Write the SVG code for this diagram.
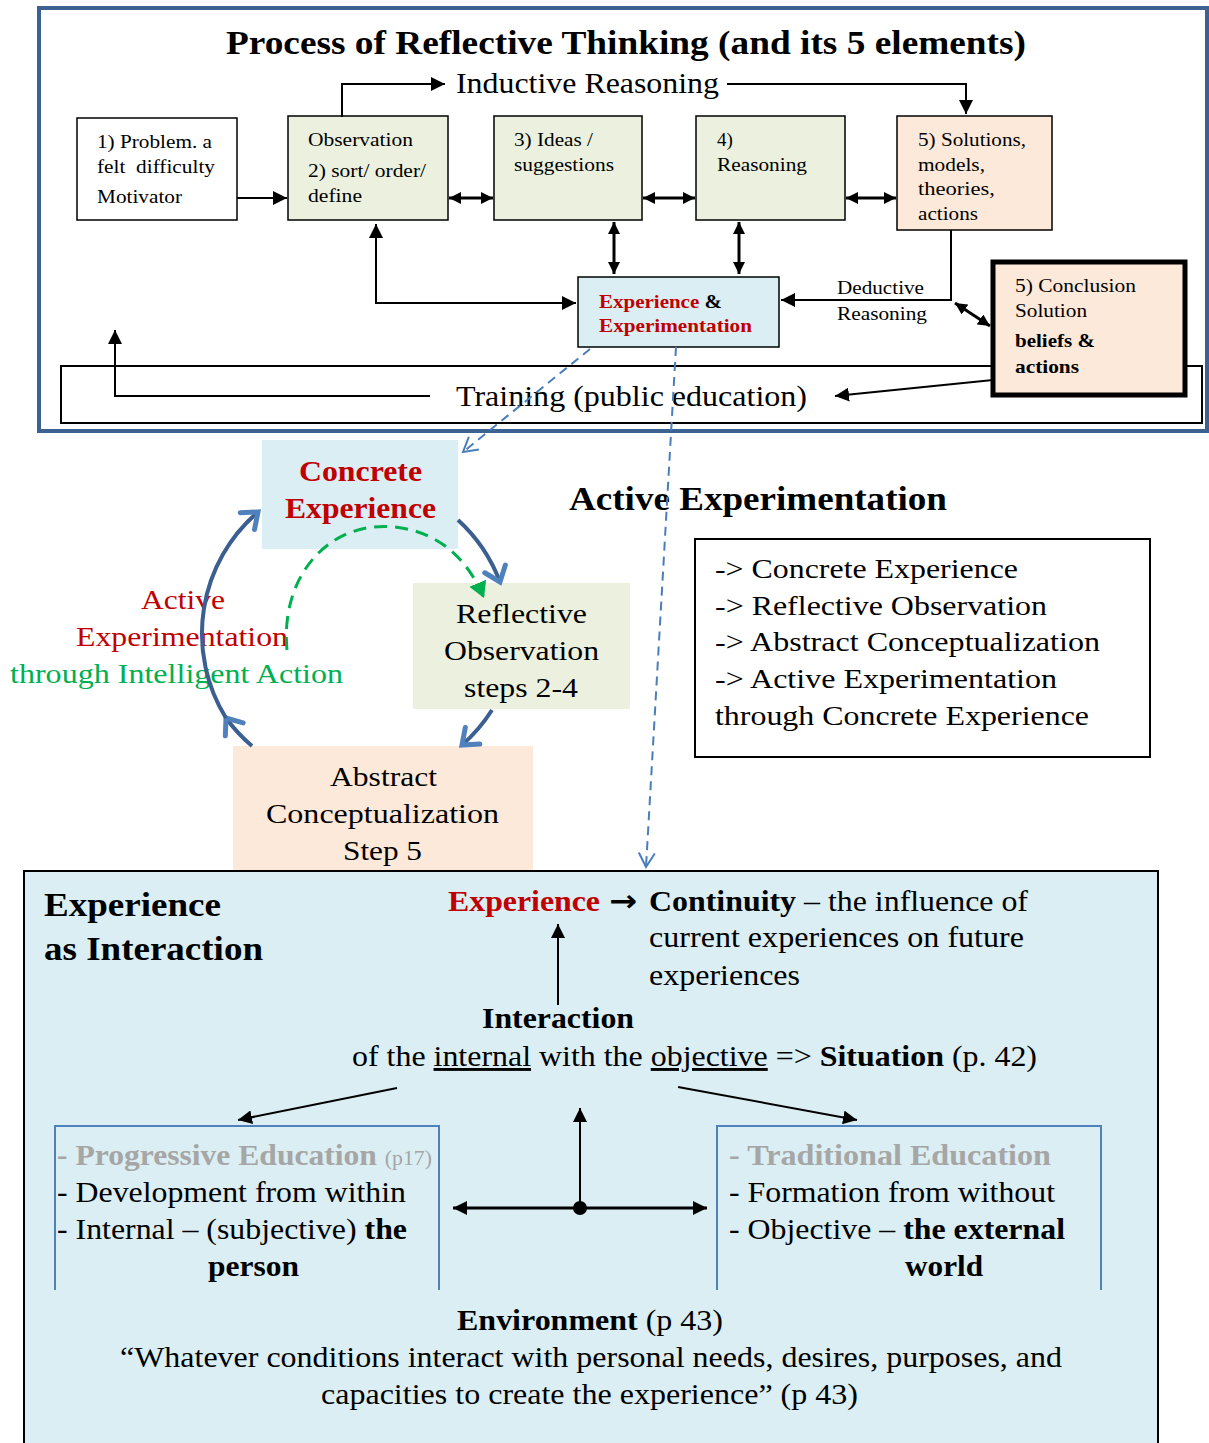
<svg xmlns="http://www.w3.org/2000/svg" width="1209" height="1443" viewBox="0 0 1209 1443">
<defs>
<style>
text{font-family:"Liberation Serif","Times New Roman",serif;fill:#000}
text.arr{font-family:"DejaVu Sans",sans-serif;font-weight:bold;font-size:30px}
.b{font-weight:bold}
.red{fill:#c00000}
.grn{fill:#00b050}
.gry{fill:#a6a6a6}
.s19{font-size:19px}
.s29{font-size:29px}
.s28{font-size:28px}
.s33{font-size:33px}
.box{stroke:#000;stroke-width:1.5}
.ln{fill:none;stroke:#000;stroke-width:2}
.thk{fill:none;stroke:#000;stroke-width:3}
.dash{fill:none;stroke:#4a7ebb;stroke-width:2;stroke-dasharray:9 6}
.cyc{fill:none;stroke:#3b5f91;stroke-width:4}
</style>
<marker id="ah" markerUnits="userSpaceOnUse" markerWidth="16" markerHeight="14" refX="14" refY="7" orient="auto-start-reverse"><path d="M0,0 L14,7 L0,14 Z" fill="#000"/></marker>
<marker id="ahs" markerUnits="userSpaceOnUse" markerWidth="14" markerHeight="12" refX="12" refY="6" orient="auto-start-reverse"><path d="M0,0 L12,6 L0,12 Z" fill="#000"/></marker>
<marker id="chev" markerUnits="userSpaceOnUse" markerWidth="30" markerHeight="30" refX="18" refY="15" orient="auto"><path d="M4,4 L18,15 L4,26" fill="none" stroke="#4f81bd" stroke-width="5" stroke-linecap="round"/></marker>
<marker id="vopen" markerUnits="userSpaceOnUse" markerWidth="24" markerHeight="24" refX="18" refY="12" orient="auto"><path d="M4,4 L18,12 L4,20" fill="none" stroke="#4a7ebb" stroke-width="2"/></marker>
<marker id="gtri" markerUnits="userSpaceOnUse" markerWidth="20" markerHeight="18" refX="16" refY="9" orient="auto"><path d="M0,0 L16,9 L0,18 Z" fill="#00b050"/></marker>
</defs>

<!-- Top frame -->
<g id="frame-top">
<rect x="39" y="8" width="1168" height="423" fill="#fff" stroke="#3c6291" stroke-width="4"/>
<text class="b s33" x="226" y="54" textLength="800" lengthAdjust="spacingAndGlyphs">Process of Reflective Thinking (and its 5 elements)</text>
</g>

<g id="training">
<rect x="61" y="366" width="1141" height="57" fill="#fff" stroke="#000" stroke-width="2"/>
<text class="s29" x="456" y="406" textLength="351" lengthAdjust="spacingAndGlyphs">Training (public education)</text>
</g>

<g id="inductive-label"><text class="s29" x="456" y="93" textLength="263" lengthAdjust="spacingAndGlyphs">Inductive Reasoning</text></g>

<g id="n1">
<rect class="box" x="77" y="118" width="160" height="102" fill="#fff"/>
<text class="s19" x="97" y="148" textLength="115" lengthAdjust="spacingAndGlyphs">1) Problem. a</text>
<text class="s19" x="97" y="173" xml:space="preserve" textLength="118" lengthAdjust="spacingAndGlyphs">felt  difficulty</text>
<text class="s19" x="97" y="203" textLength="85" lengthAdjust="spacingAndGlyphs">Motivator</text>
</g>
<g id="n2">
<rect class="box" x="288" y="116" width="160" height="104" fill="#ebf1de"/>
<text class="s19" x="308" y="146" textLength="105" lengthAdjust="spacingAndGlyphs">Observation</text>
<text class="s19" x="308" y="177" textLength="118" lengthAdjust="spacingAndGlyphs">2) sort/ order/</text>
<text class="s19" x="308" y="202" textLength="54" lengthAdjust="spacingAndGlyphs">define</text>
</g>
<g id="n3">
<rect class="box" x="494" y="116" width="148" height="104" fill="#ebf1de"/>
<text class="s19" x="514" y="146" textLength="79" lengthAdjust="spacingAndGlyphs">3) Ideas /</text>
<text class="s19" x="514" y="171" textLength="100" lengthAdjust="spacingAndGlyphs">suggestions</text>
</g>
<g id="n4">
<rect class="box" x="696" y="116" width="149" height="104" fill="#ebf1de"/>
<text class="s19" x="717" y="146">4)</text>
<text class="s19" x="717" y="171" textLength="90" lengthAdjust="spacingAndGlyphs">Reasoning</text>
</g>
<g id="n5">
<rect class="box" x="897" y="116" width="155" height="114" fill="#fde9d9"/>
<text class="s19" x="918" y="146" textLength="108" lengthAdjust="spacingAndGlyphs">5) Solutions,</text>
<text class="s19" x="918" y="171" textLength="67" lengthAdjust="spacingAndGlyphs">models,</text>
<text class="s19" x="918" y="195" textLength="77" lengthAdjust="spacingAndGlyphs">theories,</text>
<text class="s19" x="918" y="220" textLength="60" lengthAdjust="spacingAndGlyphs">actions</text>
</g>
<g id="n-exp">
<rect class="box" x="578" y="277" width="201" height="70" fill="#dbeef3"/>
<text class="s19 b" x="599" y="308" textLength="123" lengthAdjust="spacingAndGlyphs"><tspan class="red">Experience</tspan> &amp;</text>
<text class="s19 b red" x="599" y="332" textLength="153" lengthAdjust="spacingAndGlyphs">Experimentation</text>
</g>
<g id="n-concl">
<rect x="993" y="262" width="192" height="133" fill="#fde9d9" stroke="#000" stroke-width="5"/>
<text class="s19" x="1015" y="292" textLength="121" lengthAdjust="spacingAndGlyphs">5) Conclusion</text>
<text class="s19" x="1015" y="317" textLength="72" lengthAdjust="spacingAndGlyphs">Solution</text>
<text class="s19 b" x="1015" y="347" textLength="80" lengthAdjust="spacingAndGlyphs">beliefs &amp;</text>
<text class="s19 b" x="1015" y="373" textLength="64" lengthAdjust="spacingAndGlyphs">actions</text>
</g>
<g id="deductive-label">
<text class="s19" x="837" y="294" textLength="87" lengthAdjust="spacingAndGlyphs">Deductive</text>
<text class="s19" x="837" y="320" textLength="90" lengthAdjust="spacingAndGlyphs">Reasoning</text>
</g>

<!-- Middle cycle -->
<g id="c-concrete">
<rect x="262" y="440" width="196" height="109" fill="#dbeef3"/>
<text class="b red" font-size="30" x="299" y="481" textLength="123" lengthAdjust="spacingAndGlyphs">Concrete</text>
<text class="b red" font-size="30" x="285" y="518" textLength="151" lengthAdjust="spacingAndGlyphs">Experience</text>
</g>
<g id="c-reflective">
<rect x="413" y="583" width="217" height="126" fill="#ebf1de"/>
<text class="s28" x="456" y="623" textLength="131" lengthAdjust="spacingAndGlyphs">Reflective</text>
<text class="s28" x="444" y="660" textLength="155" lengthAdjust="spacingAndGlyphs">Observation</text>
<text class="s28" x="464" y="697" textLength="114" lengthAdjust="spacingAndGlyphs">steps 2-4</text>
</g>
<g id="c-abstract">
<rect x="233" y="746" width="300" height="124" fill="#fde9d9"/>
<text class="s28" x="330" y="786" textLength="107" lengthAdjust="spacingAndGlyphs">Abstract</text>
<text class="s28" x="266" y="823" textLength="233" lengthAdjust="spacingAndGlyphs">Conceptualization</text>
<text class="s28" x="343" y="860" textLength="79" lengthAdjust="spacingAndGlyphs">Step 5</text>
</g>
<g id="c-active-label">
<text class="s28 red" x="141" y="609" textLength="84" lengthAdjust="spacingAndGlyphs">Active</text>
<text class="s28 red" x="76" y="646" textLength="212" lengthAdjust="spacingAndGlyphs">Experimentation</text>
<text class="s28 grn" x="10" y="683" textLength="333" lengthAdjust="spacingAndGlyphs">through Intelligent Action</text>
</g>
<g id="active-title"><text class="b s33" x="569" y="510" textLength="378" lengthAdjust="spacingAndGlyphs">Active Experimentation</text></g>
<g id="active-list">
<rect x="695" y="539" width="455" height="218" fill="#fff" stroke="#000" stroke-width="2"/>
<text class="s28" x="715" y="578" textLength="303" lengthAdjust="spacingAndGlyphs">-&gt; Concrete Experience</text>
<text class="s28" x="715" y="615" textLength="332" lengthAdjust="spacingAndGlyphs">-&gt; Reflective Observation</text>
<text class="s28" x="715" y="651" textLength="385" lengthAdjust="spacingAndGlyphs">-&gt; Abstract Conceptualization</text>
<text class="s28" x="715" y="688" textLength="342" lengthAdjust="spacingAndGlyphs">-&gt; Active Experimentation</text>
<text class="s28" x="715" y="725" textLength="374" lengthAdjust="spacingAndGlyphs">through Concrete Experience</text>
</g>

<!-- Bottom section -->
<g id="bottom-frame">
<rect x="24" y="871" width="1134" height="580" fill="#daeef3" stroke="#000" stroke-width="2"/>
<text class="b s33" x="44" y="916" textLength="177" lengthAdjust="spacingAndGlyphs">Experience</text>
<text class="b s33" x="44" y="960" textLength="219" lengthAdjust="spacingAndGlyphs">as Interaction</text>
</g>
<g id="continuity">
<text class="s29 b red" x="448" y="911" textLength="152" lengthAdjust="spacingAndGlyphs">Experience</text>
<text class="arr" x="609" y="911" textLength="28" lengthAdjust="spacingAndGlyphs">→</text>
<text class="s29" x="649" y="911" textLength="379" lengthAdjust="spacingAndGlyphs"><tspan class="b">Continuity</tspan> – the influence of</text>
<text class="s29" x="649" y="947" textLength="375" lengthAdjust="spacingAndGlyphs">current experiences on future</text>
<text class="s29" x="649" y="985" textLength="151" lengthAdjust="spacingAndGlyphs">experiences</text>
</g>
<g id="interaction">
<text class="s29 b" x="482" y="1028" textLength="152" lengthAdjust="spacingAndGlyphs">Interaction</text>
<text class="s29" x="352" y="1066" textLength="685" lengthAdjust="spacingAndGlyphs">of the <tspan text-decoration="underline">internal</tspan> with the <tspan text-decoration="underline">objective</tspan> =&gt; <tspan class="b">Situation</tspan> (p. 42)</text>
</g>
<g id="progressive">
<path d="M55,1290 V1126 H439 V1290" fill="none" stroke="#4f81bd" stroke-width="2"/>
<text class="s29 b gry" x="57" y="1165" textLength="375" lengthAdjust="spacingAndGlyphs">- Progressive Education <tspan font-size="20" font-weight="normal">(p17)</tspan></text>
<text class="s29" x="57" y="1202" textLength="349" lengthAdjust="spacingAndGlyphs">- Development from within</text>
<text class="s29" x="57" y="1239" textLength="350" lengthAdjust="spacingAndGlyphs">- Internal – (subjective) <tspan class="b">the</tspan></text>
<text class="s29 b" x="208" y="1276" textLength="91" lengthAdjust="spacingAndGlyphs">person</text>
</g>
<g id="traditional">
<path d="M717,1290 V1126 H1101 V1290" fill="none" stroke="#4f81bd" stroke-width="2"/>
<text class="s29 b gry" x="729" y="1165" textLength="322" lengthAdjust="spacingAndGlyphs">- Traditional Education</text>
<text class="s29" x="729" y="1202" textLength="326" lengthAdjust="spacingAndGlyphs">- Formation from without</text>
<text class="s29" x="729" y="1239" textLength="336" lengthAdjust="spacingAndGlyphs">- Objective – <tspan class="b">the external</tspan></text>
<text class="s29 b" x="905" y="1276" textLength="78" lengthAdjust="spacingAndGlyphs">world</text>
</g>
<g id="environment">
<text class="s29" x="457" y="1330" textLength="266" lengthAdjust="spacingAndGlyphs"><tspan class="b">Environment</tspan> (p 43)</text>
<text class="s29" x="120" y="1367" textLength="942" lengthAdjust="spacingAndGlyphs">“Whatever conditions interact with personal needs, desires, purposes, and</text>
<text class="s29" x="321" y="1404" textLength="537" lengthAdjust="spacingAndGlyphs">capacities to create the experience” (p 43)</text>
</g>

<!-- Connectors -->
<g id="connectors">
<path class="ln" d="M342,117 V84 H445" marker-end="url(#ah)"/>
<path class="ln" d="M727,84 H966 V114" marker-end="url(#ah)"/>
<path class="ln" d="M237,198 H287" marker-end="url(#ah)"/>
<path class="thk" d="M449,198 H493" marker-start="url(#ahs)" marker-end="url(#ahs)"/>
<path class="thk" d="M643,198 H695" marker-start="url(#ahs)" marker-end="url(#ahs)"/>
<path class="thk" d="M846,198 H896" marker-start="url(#ahs)" marker-end="url(#ahs)"/>
<path class="thk" d="M614,222 V274" marker-start="url(#ahs)" marker-end="url(#ahs)"/>
<path class="thk" d="M739,222 V274" marker-start="url(#ahs)" marker-end="url(#ahs)"/>
<path class="ln" d="M376,224 V303 H576" marker-start="url(#ah)" marker-end="url(#ah)"/>
<path class="ln" d="M951,230 V300 H781" marker-end="url(#ah)"/>
<path class="thk" d="M955,303 L990,326" marker-start="url(#ahs)" marker-end="url(#ahs)"/>
<path class="ln" d="M430,396 H115 V330" marker-end="url(#ah)"/>
<path class="ln" d="M993,380 L835,396" marker-end="url(#ah)"/>
<path class="dash" d="M590,349 L463,452" marker-end="url(#vopen)"/>
<path class="dash" d="M676,347 L646,867" marker-end="url(#vopen)"/>
<path class="cyc" d="M458,520 A160,160 0 0 1 500,582" marker-end="url(#chev)"/>
<path class="cyc" d="M492,710 A160,160 0 0 1 462,745" marker-end="url(#chev)"/>
<path class="cyc" d="M252,746 A160,160 0 0 1 226,718" marker-end="url(#chev)"/>
<path class="cyc" d="M226,718 A160,160 0 0 1 258,512" marker-end="url(#chev)"/>
<path d="M287,650 C280,575 330,520 395,527 C440,532 468,560 484,598" fill="none" stroke="#00b050" stroke-width="3" stroke-dasharray="13 8" marker-end="url(#gtri)"/>
<path class="ln" d="M558,1005 V924" marker-end="url(#ah)"/>
<path class="ln" d="M397,1088 L238,1120" marker-end="url(#ah)"/>
<path class="ln" d="M678,1087 L857,1120" marker-end="url(#ah)"/>
<path class="ln" d="M580,1208 V1108" marker-end="url(#ah)"/>
<path class="thk" d="M453,1208 H707" marker-start="url(#ah)" marker-end="url(#ah)"/>
<circle cx="580" cy="1208" r="7" fill="#000"/>
</g>
</svg>
